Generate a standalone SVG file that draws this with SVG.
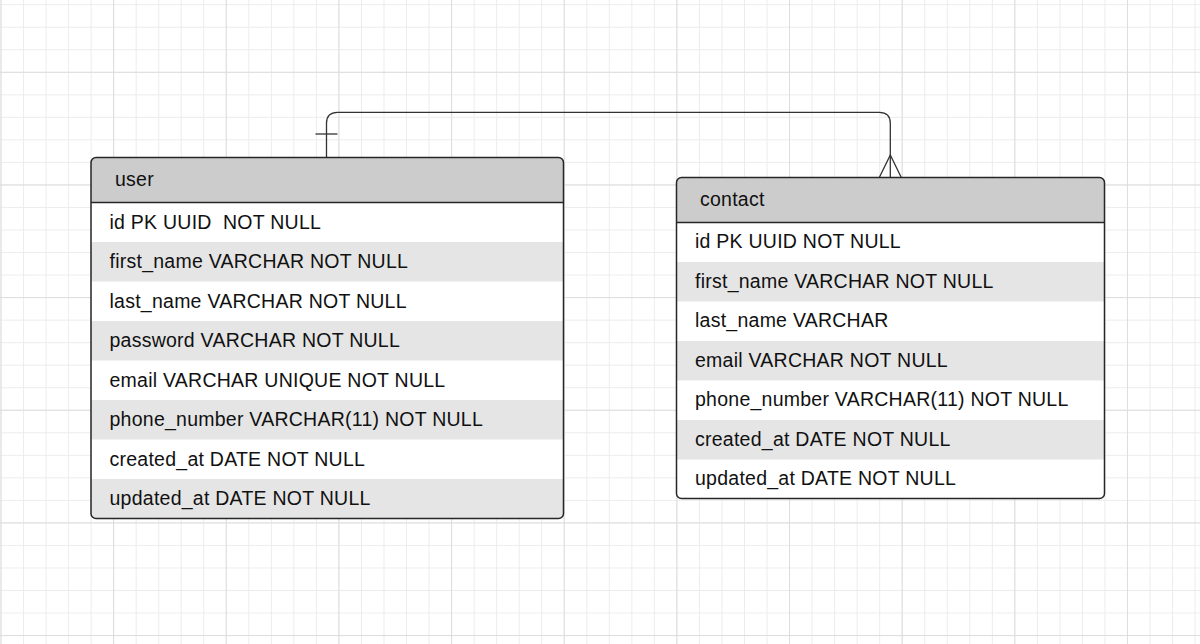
<svg xmlns="http://www.w3.org/2000/svg" width="1200" height="644" viewBox="0 0 1200 644">
  <style>
    .tbl { fill: none; stroke: #262626; stroke-width: 1.5; }
    .hdr { fill: #cccccc; }
    .alt { fill: #e5e5e5; }
    .sep { stroke: #262626; stroke-width: 1.5; }
    .t { font-family: "Liberation Sans", Arial, sans-serif; font-size: 19.5px; letter-spacing: 0.25px; fill: #111; white-space: pre; }
    .conn { fill: none; stroke: #333; stroke-width: 1.3; }
  </style>
  <defs>
    <pattern id="minor" patternUnits="userSpaceOnUse" x="-10.265" y="-6.565" width="22.53" height="22.53">
      <path d="M11.265 0 V22.53 M0 11.265 H22.53" stroke="#ececec" stroke-width="1" fill="none"/>
    </pattern>
    <pattern id="major" patternUnits="userSpaceOnUse" x="57.275" y="15.975" width="112.65" height="112.65">
      <path d="M56.325 0 V112.65 M0 56.325 H112.65" stroke="#dddddd" stroke-width="1" fill="none"/>
    </pattern>
    <clipPath id="clipUser"><rect x="91" y="157.5" width="472.5" height="361" rx="5"/></clipPath>
    <clipPath id="clipContact"><rect x="676.5" y="177.5" width="428" height="321" rx="5"/></clipPath>
  </defs>

  <rect width="1200" height="644" fill="#ffffff"/>
  <rect width="1200" height="644" fill="url(#minor)"/>
  <rect width="1200" height="644" fill="url(#major)"/>

  <g id="connectors">
    <path class="conn" d="M326.5 157.5 V123.3 Q326.5 112.3 337.5 112.3 H879.3 Q890.3 112.3 890.3 123.3 V177.5"/>
    <path class="conn" d="M315.5 134 H337.5"/>
    <path class="conn" d="M879.3 177.5 L890.3 155 L901.3 177.5"/>
  </g>

  <g id="user">
    <g clip-path="url(#clipUser)">
      <rect x="91" y="157.5" width="472.5" height="361" fill="#ffffff"/>
      <rect class="hdr" x="91" y="157.5" width="472.5" height="45"/>
      <rect class="alt" x="91" y="242" width="472.5" height="39.5"/>
      <rect class="alt" x="91" y="321" width="472.5" height="39.5"/>
      <rect class="alt" x="91" y="400" width="472.5" height="39.5"/>
      <rect class="alt" x="91" y="479" width="472.5" height="39.5"/>
    </g>
    <line class="sep" x1="91" y1="202.5" x2="563.5" y2="202.5"/>
    <rect class="tbl" x="91" y="157.5" width="472.5" height="361" rx="5"/>
    <text class="t" x="115" y="185.5">user</text>
    <text class="t" x="109.5" y="228.5">id PK UUID  NOT NULL</text>
    <text class="t" x="109.5" y="268">first_name VARCHAR NOT NULL</text>
    <text class="t" x="109.5" y="307.5">last_name VARCHAR NOT NULL</text>
    <text class="t" x="109.5" y="347">password VARCHAR NOT NULL</text>
    <text class="t" x="109.5" y="386.5">email VARCHAR UNIQUE NOT NULL</text>
    <text class="t" x="109.5" y="426">phone_number VARCHAR(11) NOT NULL</text>
    <text class="t" x="109.5" y="465.5">created_at DATE NOT NULL</text>
    <text class="t" x="109.5" y="505">updated_at DATE NOT NULL</text>
  </g>

  <g id="contact">
    <g clip-path="url(#clipContact)">
      <rect x="676.5" y="177.5" width="428" height="321" fill="#ffffff"/>
      <rect class="hdr" x="676.5" y="177.5" width="428" height="45"/>
      <rect class="alt" x="676.5" y="262" width="428" height="39.5"/>
      <rect class="alt" x="676.5" y="341" width="428" height="39.5"/>
      <rect class="alt" x="676.5" y="420" width="428" height="39.5"/>
    </g>
    <line class="sep" x1="676.5" y1="222.5" x2="1104.5" y2="222.5"/>
    <rect class="tbl" x="676.5" y="177.5" width="428" height="321" rx="5"/>
    <text class="t" x="700" y="205.5">contact</text>
    <text class="t" x="695" y="248">id PK UUID NOT NULL</text>
    <text class="t" x="695" y="287.5">first_name VARCHAR NOT NULL</text>
    <text class="t" x="695" y="327">last_name VARCHAR</text>
    <text class="t" x="695" y="366.5">email VARCHAR NOT NULL</text>
    <text class="t" x="695" y="406">phone_number VARCHAR(11) NOT NULL</text>
    <text class="t" x="695" y="445.5">created_at DATE NOT NULL</text>
    <text class="t" x="695" y="485">updated_at DATE NOT NULL</text>
  </g>
</svg>
